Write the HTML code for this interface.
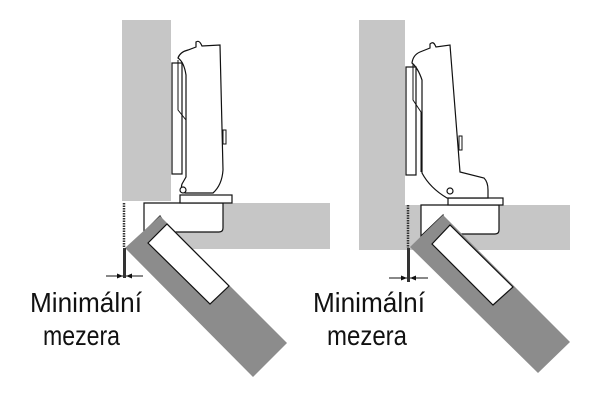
<!DOCTYPE html>
<html><head><meta charset="utf-8"><style>
html,body{margin:0;padding:0;background:#fff;width:600px;height:400px;overflow:hidden}
svg{display:block}
text{font-family:"Liberation Sans",sans-serif;font-size:28px;fill:#111}
</style></head><body>
<svg width="600" height="400" viewBox="0 0 600 400">
<g id="d">
  <rect x="122" y="20" width="49" height="181" fill="#c6c6c6"/>
  <rect x="144" y="203" width="186" height="46" fill="#c6c6c6"/>
  <path d="M144,203 H223 V228 Q223,232 219,232 H170 L160,216 L144,232 Z" fill="#fff" stroke="#111" stroke-width="1.2"/>
  <polygon points="125,248 160,216 287,343 253,377" fill="#8c8c8c"/>
  <polygon points="148,243 167,224 229,286 210,304" fill="#fff" stroke="#111" stroke-width="1.2"/>
  <rect x="180" y="195" width="52" height="8" fill="#fff" stroke="#111" stroke-width="1.2"/>
  <path d="M178,58 Q180,52 188,50 L196,47 L196,42 Q199,40 201,44 L202,46 L220,45 L223,170 Q222,185 213,193 H185 Q180,190 182,184 L186,177 V75 Q184,62 178,58 Z" fill="#fff" stroke="#111" stroke-width="1.2"/>
  <rect x="172" y="63" width="10" height="111" fill="#fff" stroke="#111" stroke-width="1.2"/>
  <path d="M178,60 V110 L186,120 V175" fill="none" stroke="#111" stroke-width="1"/>
  <rect x="223" y="130" width="3" height="14" fill="#fff" stroke="#111" stroke-width="1"/>
  <circle cx="183" cy="190" r="3" fill="#fff" stroke="#111" stroke-width="1.2"/>
  <line x1="124" y1="203" x2="124" y2="248" stroke="#333" stroke-width="2.5" stroke-dasharray="1.5,1"/>
  <rect x="123" y="248" width="3" height="30" fill="#333"/>
  <line x1="106" y1="276" x2="123" y2="276" stroke="#111" stroke-width="1"/>
  <polygon points="123,276 117,273.5 117,278.5" fill="#111"/>
  <line x1="126" y1="276" x2="143" y2="276" stroke="#111" stroke-width="1"/>
  <polygon points="126,276 132,273.5 132,278.5" fill="#111"/>
</g>
<g>
  <rect x="359" y="20" width="46" height="230" fill="#c6c6c6"/>
  <rect x="405" y="205" width="165" height="45" fill="#c6c6c6"/>
  <path d="M421,205 H499 V230 Q499,234 495,234 H447 L443,215 L421,236 Z" fill="#fff" stroke="#111" stroke-width="1.2"/>
  <polygon points="410,247 443,215 570,342 538,373" fill="#8c8c8c"/>
  <polygon points="432,244 450,225 513,287 493,305" fill="#fff" stroke="#111" stroke-width="1.2"/>
  <rect x="448" y="198" width="55" height="7" fill="#fff" stroke="#111" stroke-width="1.2"/>
  <path d="M412,63 Q413,55 420,52 L430,48 L430,44 Q433,41 435,45 L436,47 L450,45 L460,172 L484,178 Q488,182 488,190 V198 H447 Q430,188 422,173 V80 Q418,68 412,63 Z" fill="#fff" stroke="#111" stroke-width="1.2"/>
  <rect x="406" y="67" width="10" height="108" fill="#fff" stroke="#111" stroke-width="1.2"/>
  <path d="M413,64 V100 L421,112 V172" fill="none" stroke="#111" stroke-width="1"/>
  <rect x="459" y="136" width="3" height="14" fill="#fff" stroke="#111" stroke-width="1"/>
  <circle cx="450" cy="191" r="3" fill="#fff" stroke="#111" stroke-width="1.2"/>
  <line x1="408" y1="205" x2="408" y2="248" stroke="#333" stroke-width="2.5" stroke-dasharray="1.5,1"/>
  <rect x="407" y="248" width="3" height="34" fill="#333"/>
  <line x1="389" y1="278" x2="407" y2="278" stroke="#111" stroke-width="1"/>
  <polygon points="407,278 401,275.5 401,280.5" fill="#111"/>
  <line x1="410" y1="278" x2="428" y2="278" stroke="#111" stroke-width="1"/>
  <polygon points="410,278 416,275.5 416,280.5" fill="#111"/>
</g>
<text x="30" y="312" textLength="112" lengthAdjust="spacingAndGlyphs">Minimální</text>
<text x="43" y="345" textLength="77" lengthAdjust="spacingAndGlyphs">mezera</text>
<text x="313" y="312" textLength="112" lengthAdjust="spacingAndGlyphs">Minimální</text>
<text x="327" y="345" textLength="80" lengthAdjust="spacingAndGlyphs">mezera</text>
</svg>
</body></html>
